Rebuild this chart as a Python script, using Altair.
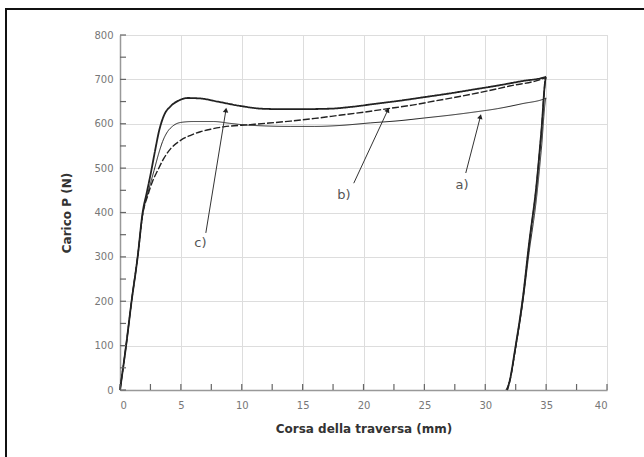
import altair as alt
import pandas as pd

# ---- data ----
a_x = [0, 0.5, 0.95, 1.45, 1.86, 2.3, 2.8, 3.2, 3.5, 3.9, 4.3, 5.0, 6.0, 7.7, 9.0, 10.0, 12.0, 14.0, 16.0, 18.0, 20.6, 23.0, 25.0, 27.0, 29.0, 31.0, 33.0, 35.0,
       34.6, 34.2, 33.6, 33.1, 32.5, 32.0, 31.7]
a_y = [0, 100, 200, 300, 395, 445, 495, 535, 560, 582, 594, 603, 605, 605, 601, 598, 595, 594, 594, 596, 602, 607, 613, 619, 626, 634, 645, 658,
       540, 430, 310, 200, 95, 20, 0]

b_x = [0, 0.5, 0.95, 1.45, 1.86, 2.3, 2.7, 3.1, 3.6, 4.2, 5.0, 5.8, 6.6, 7.5, 8.5, 10.7, 12.0, 14.0, 16.0, 18.0, 20.0, 22.0, 24.0, 26.0, 28.0, 30.0, 32.0, 35.0,
       34.6, 34.2, 33.6, 33.1, 32.5, 32.0, 31.8]
b_y = [0, 100, 200, 300, 395, 440, 472, 495, 522, 545, 563, 574, 582, 588, 593, 598, 601, 606, 612, 619, 626, 634, 642, 652, 662, 673, 685, 705,
       578, 458, 328, 208, 98, 18, 0]

c_x = [0, 0.5, 0.95, 1.45, 1.86, 2.2, 2.54, 2.85, 3.22, 3.6, 4.18, 4.8, 5.55, 6.6, 8.0, 9.9, 11.6, 13.0, 15.0, 17.3, 19.0, 21.0, 23.0, 25.0, 27.0, 29.0, 31.0, 33.0, 35.0,
       34.6, 34.2, 33.6, 33.1, 32.5, 32.0, 31.8]
c_y = [0, 100, 200, 300, 400, 445, 490, 535, 585, 618, 640, 652, 658, 657, 650, 640, 634, 633, 633, 634, 638, 645, 652, 660, 668, 677, 686, 696, 706,
       580, 460, 330, 210, 100, 20, 0]

labels = ["a)", "b)", "c)"]
label_x = [28.1, 18.4, 6.6]
label_y = [462, 440, 331]
arrow_x1 = [28.4, 19.2, 7.05]
arrow_y1 = [489, 466, 354]
arrow_x2 = [29.6, 22.0, 8.7]
arrow_y2 = [616, 631, 631]
arrow_angle = [14, 25, 9]

x_major = [0, 5, 10, 15, 20, 25, 30, 35, 40]
x_minor = [2.5 * i for i in range(17)]
y_major = [0, 100, 200, 300, 400, 500, 600, 700, 800]
y_minor = [50 * i for i in range(17)]

X_TITLE = "Corsa della traversa (mm)"
Y_TITLE = "Carico P (N)"

# ---- tables ----
rows = []
for name, xs_, ys_ in (("a", a_x, a_y), ("b", b_x, b_y), ("c", c_x, c_y)):
    for i, (xv, yv) in enumerate(zip(xs_, ys_)):
        rows.append({"curve": name, "i": i, "x": xv, "y": yv})
curves = pd.DataFrame(rows)
ann = pd.DataFrame({"label": labels, "lx": label_x, "ly": label_y,
                    "x1": arrow_x1, "y1": arrow_y1, "x2": arrow_x2, "y2": arrow_y2,
                    "angle": arrow_angle})
xt = pd.DataFrame({"v": x_minor})
yt = pd.DataFrame({"v": y_minor})

W, H = 487, 355
xs = alt.Scale(domain=[0, 40], nice=False)
ys = alt.Scale(domain=[0, 800], nice=False)

FONT = "DejaVu Sans"

x_main = alt.Axis(orient="bottom", values=x_major, grid=True, ticks=False, title=X_TITLE, labelPadding=10,
                  labelFont=FONT, titleFont=FONT,
                  labelColor="#777", labelFontSize=10, titleFontSize=12, titleFontWeight="bold",
                  titleColor="#333", titlePadding=13, domainColor="#999", domainWidth=1.5, format="d")
y_main = alt.Axis(orient="left", values=y_major, grid=True, ticks=False, title=Y_TITLE, labelPadding=7,
                  labelFont=FONT, titleFont=FONT,
                  labelColor="#777", labelFontSize=10, titleFontSize=12, titleFontWeight="bold",
                  titleColor="#333", titlePadding=20, domainColor="#999", domainWidth=1.5, format="d")

lines = alt.Chart(curves).mark_line(color="#222", interpolate="monotone").encode(
    x=alt.X("x:Q", scale=xs, axis=x_main),
    y=alt.Y("y:Q", scale=ys, axis=y_main),
    order="i:Q",
    detail="curve:N",
    strokeWidth=alt.StrokeWidth("curve:N", scale=alt.Scale(domain=["a", "b", "c"], range=[1.0, 1.8, 1.8]), legend=None),
    strokeDash=alt.StrokeDash("curve:N", scale=alt.Scale(domain=["a", "b", "c"], range=[[1, 0], [7, 2], [1, 0]]), legend=None),
)

tick_x = alt.Chart(xt).mark_rule(color="#666", strokeWidth=1.2).encode(
    x=alt.X("v:Q", scale=xs, title=X_TITLE), y=alt.value(H), y2=alt.value(H - 6))
tick_y = alt.Chart(yt).mark_rule(color="#666", strokeWidth=1.2).encode(
    y=alt.Y("v:Q", scale=ys, title=Y_TITLE), x=alt.value(0), x2=alt.value(6))

arrows = alt.Chart(ann).mark_rule(color="#333", strokeWidth=1).encode(
    x=alt.X("x1:Q", scale=xs, title=X_TITLE), y=alt.Y("y1:Q", scale=ys, title=Y_TITLE), x2="x2:Q", y2="y2:Q")
heads = alt.Chart(ann).mark_point(shape="triangle-up", filled=True, color="#222", size=30, opacity=1).encode(
    x=alt.X("x2:Q", scale=xs, title=X_TITLE), y=alt.Y("y2:Q", scale=ys, title=Y_TITLE),
    angle=alt.Angle("angle:Q", scale=None))
texts = alt.Chart(ann).mark_text(font=FONT, fontSize=13, color="#555").encode(
    x=alt.X("lx:Q", scale=xs, title=X_TITLE), y=alt.Y("ly:Q", scale=ys, title=Y_TITLE), text="label:N")

frame = alt.Chart(pd.DataFrame({"k": [0]})).mark_rect(filled=False, stroke="#111", strokeWidth=2).encode(
    x=alt.value(-114), x2=alt.value(W + 60), y=alt.value(-26), y2=alt.value(H + 90))

chart = alt.layer(lines, tick_x, tick_y, arrows, heads, texts, frame).properties(
    width=W, height=H,
    autosize=alt.AutoSizeParams(type="none"),
    padding={"left": 120, "top": 35, "right": 37, "bottom": 67},
).configure_view(stroke="#999", strokeWidth=1.5).configure_axis(
    gridColor="#e8e8e8"
).configure(background="white")

chart.save("out.html", embed_options={"renderer": "svg", "actions": False})
